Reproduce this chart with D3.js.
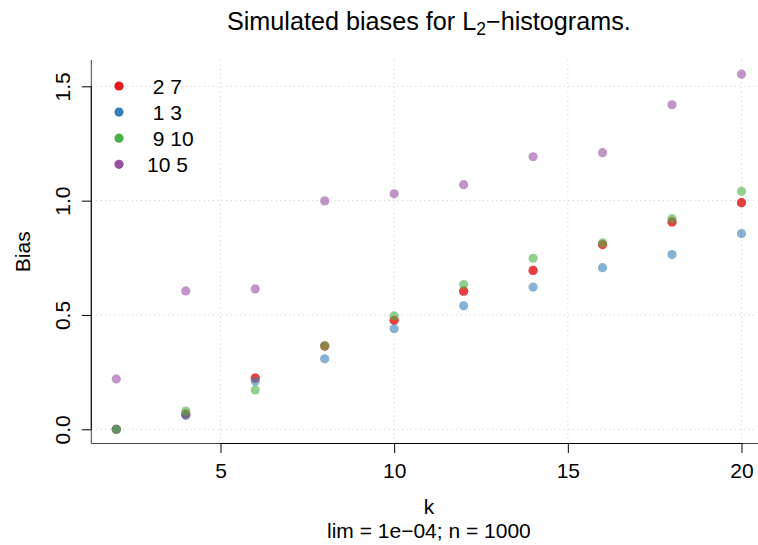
<!DOCTYPE html>
<html>
<head>
<meta charset="utf-8">
<script src="https://cdn.jsdelivr.net/npm/d3@7"></script>
<style>
  body { margin: 0; background: #fff; }
  svg text { font-family: "Liberation Sans", Arial, Helvetica, sans-serif; fill: #000; }
</style>
</head>
<body>
<div id="chart"></div>
<script>
// Data
const kValues = [2, 4, 6, 8, 10, 12, 14, 16, 18, 20];
const seriesLabels = [" 2 7", " 1 3", " 9 10", "10 5"];
const bias27 = [0, 0.066, 0.224, 0.364, 0.477, 0.604, 0.695, 0.808, 0.907, 0.991];
const bias13 = [0, 0.060, 0.210, 0.308, 0.440, 0.540, 0.622, 0.707, 0.764, 0.856];
const bias910 = [0, 0.080, 0.172, 0.365, 0.496, 0.633, 0.748, 0.815, 0.921, 1.041];
const bias105 = [0.220, 0.605, 0.614, 0.999, 1.030, 1.070, 1.192, 1.210, 1.419, 1.553];
const seriesColors = ["#E41A1C", "#377EB8", "#4DAF4A", "#984EA3"];
const xTicks = [5, 10, 15, 20];
const yTicks = [0, 0.5, 1.0, 1.5];

(function() {
    const W = 758, H = 545;
    const plot = { left: 91.3, right: 766.5, top: 60, bottom: 443.5 };
    const axisFont = 21;

    const allSeries = [bias27, bias13, bias910, bias105];

    // R-style 4% padding of the data range
    function padded(ext) {
        const p = (ext[1] - ext[0]) * 0.04;
        return [ext[0] - p, ext[1] + p];
    }

    const x = d3.scaleLinear()
        .domain(padded(d3.extent(kValues)))
        .range([plot.left, plot.right]);
    const y = d3.scaleLinear()
        .domain(padded(d3.extent(allSeries.flat())))
        .range([plot.bottom, plot.top]);

    const svg = d3.select("#chart").append("svg")
        .attr("width", W)
        .attr("height", H);

    // Grid (dotted)
    const grid = svg.append("g").attr("stroke", "#d3d3d3").attr("stroke-dasharray", "1.2,3.3");
    grid.selectAll("line.v").data(xTicks).join("line")
        .attr("x1", d => x(d)).attr("x2", d => x(d))
        .attr("y1", plot.top).attr("y2", plot.bottom);
    grid.selectAll("line.h").data(yTicks).join("line")
        .attr("x1", plot.left).attr("x2", plot.right)
        .attr("y1", d => y(d)).attr("y2", d => y(d));

    // Points: red drawn twice (plot + points), others once
    const layers = [0, 0, 1, 2, 3];
    const ptGroup = svg.append("g");
    layers.forEach(si => {
        ptGroup.append("g")
            .selectAll("circle")
            .data(kValues.map((k, i) => ({ k: k, v: allSeries[si][i] })))
            .join("circle")
            .attr("cx", d => x(d.k))
            .attr("cy", d => y(d.v))
            .attr("r", 4.6)
            .attr("fill", seriesColors[si])
            .attr("fill-opacity", 0.6);
    });

    // L-shaped box
    svg.append("path")
        .attr("d", `M${plot.left},${plot.top}V${plot.bottom}H${plot.right}`)
        .attr("fill", "none")
        .attr("stroke", "#444")
        .attr("stroke-width", 1);

    // X axis
    const xAxis = svg.append("g").attr("transform", `translate(0,${plot.bottom})`)
        .call(d3.axisBottom(x).tickValues(xTicks).tickSize(9.5).tickPadding(8).tickFormat(d3.format("d")));
    xAxis.select(".domain").remove();
    xAxis.append("line")
        .attr("x1", x(xTicks[0])).attr("x2", x(xTicks[xTicks.length - 1]))
        .attr("stroke", "#000");
    xAxis.selectAll(".tick line").attr("stroke", "#000");
    xAxis.selectAll(".tick text")
        .attr("y", 34).attr("dy", null)
        .style("font-size", axisFont + "px")
        .style("font-family", "Liberation Sans, Arial, sans-serif");

    // Y axis
    const yAxis = svg.append("g").attr("transform", `translate(${plot.left},0)`)
        .call(d3.axisLeft(y).tickValues(yTicks).tickSize(9.5).tickFormat(d3.format(".1f")));
    yAxis.select(".domain").remove();
    yAxis.append("line")
        .attr("y1", y(yTicks[0])).attr("y2", y(yTicks[yTicks.length - 1]))
        .attr("stroke", "#000");
    yAxis.selectAll(".tick line").attr("stroke", "#000");
    yAxis.selectAll(".tick text")
        .attr("x", null).attr("dy", null)
        .attr("text-anchor", "middle")
        .attr("transform", "translate(-21,0) rotate(-90)")
        .style("font-size", axisFont + "px")
        .style("font-family", "Liberation Sans, Arial, sans-serif");

    // Titles
    const cx = (plot.left + plot.right) / 2;
    const title = svg.append("text")
        .attr("x", cx).attr("y", 30)
        .attr("text-anchor", "middle")
        .style("font-size", "25.2px");
    title.append("tspan").text("Simulated biases for L");
    title.append("tspan").attr("dy", 5).style("font-size", "17.5px").text("2");
    title.append("tspan").attr("dy", -5).text("\u2212histograms.");

    svg.append("text")
        .attr("x", cx).attr("y", 514)
        .attr("text-anchor", "middle")
        .style("font-size", axisFont + "px")
        .text("k");
    svg.append("text")
        .attr("x", cx).attr("y", 538)
        .attr("text-anchor", "middle")
        .style("font-size", axisFont + "px")
        .text("lim = 1e\u221204; n = 1000");

    svg.append("text")
        .attr("transform", `translate(30,${(plot.top + plot.bottom) / 2}) rotate(-90)`)
        .attr("text-anchor", "middle")
        .style("font-size", axisFont + "px")
        .text("Bias");

    // Legend
    const legend = svg.append("g");
    const rows = legend.selectAll("g").data(seriesLabels).join("g")
        .attr("transform", (d, i) => `translate(119,${86 + i * 26.1})`);
    rows.append("circle")
        .attr("r", 4.6)
        .attr("fill", (d, i) => seriesColors[i]);
    rows.append("text")
        .attr("x", 28)
        .attr("y", 7.5)
        .style("font-size", axisFont + "px")
        .style("white-space", "pre")
        .text(d => d);
})();
</script>
</body>
</html>
